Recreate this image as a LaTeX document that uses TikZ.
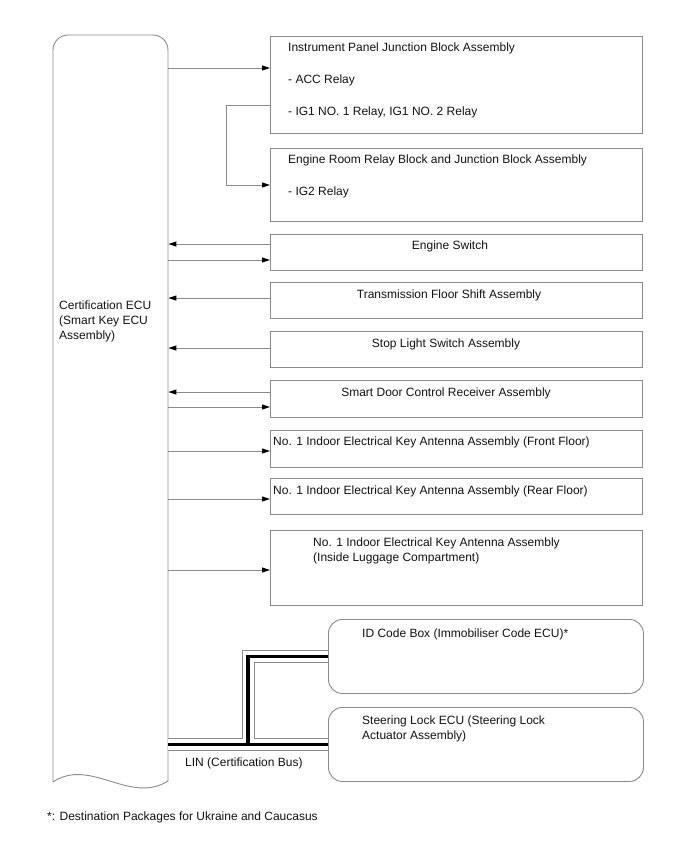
\documentclass[tikz,border=0pt]{standalone}
\usepackage{fontspec}
\setmainfont{Liberation Sans}
\usetikzlibrary{positioning,arrows.meta,calc}
\definecolor{wire}{HTML}{8A8A8A}
\definecolor{ink}{HTML}{111111}
\tikzset{
  unit/.style={draw=wire,line width=0.9pt,anchor=north west,inner sep=0pt,
               minimum width=372pt},
  rbox/.style={unit,rounded corners=14pt,minimum width=315pt,minimum height=74pt},
  txt/.style={anchor=base west,inner sep=0pt,text=ink,
              font=\fontsize{12}{15}\selectfont,align=left},
  ctxt/.style={txt,anchor=base},
  sig/.style={draw=wire,line width=0.9pt,
              -{Triangle[length=8pt,width=5pt,color=black]}},
  busout/.style={draw=wire,line width=13pt},
  busgap/.style={draw=white,line width=11pt},
  buscore/.style={draw=black,line width=3.5pt}
}

\begin{document}
\begin{tikzpicture}[x=1pt,y=-1pt]
    \useasboundingbox (0,0) rectangle (688,852);

    % smart key ECU (bottom edge is a torn/wavy line)
    \node[anchor=north west,minimum width=115pt,minimum height=748pt,inner sep=0pt] (ecu) at (53,35) {};
    \draw[wire,line width=0.9pt] (53,782) -- (53,50) arc[start angle=180,end angle=270,radius=15]
      -- (153,35) arc[start angle=270,end angle=360,radius=15] -- (168,781)
      .. controls (130,805) and (90,757) .. (53,782);
    \node[txt] (ecutxt) at (59,339.5) {Certification ECU\\(Smart Key ECU\\Assembly)};

    % right hand column
    \node[unit,minimum height=97pt] (ipjb) at (270,36) {};
    \node[unit,minimum height=73pt] (erjb) at (270,148) {};
    \node[unit,minimum height=36pt] (esw) at (270,234) {};
    \node[unit,minimum height=36pt] (tfs) at (270,282) {};
    \node[unit,minimum height=36pt] (sls) at (270,331) {};
    \node[unit,minimum height=37pt] (sdr) at (270,380) {};
    \node[unit,minimum height=37pt] (antf) at (270,430) {};
    \node[unit,minimum height=36pt] (antr) at (270,478) {};
    \node[unit,minimum height=75pt] (antl) at (270,530) {};
    \node[rbox] (idb) at (328,619) {};
    \node[rbox] (slk) at (328,707) {};

    \node[txt] (ipjbt) at (288,51) {Instrument Panel Junction Block Assembly};
    \node[txt] (acc) at (288,83) {- ACC Relay};
    \node[txt] (ig1) at (288,115) {- IG1 NO. 1 Relay, IG1 NO. 2 Relay};
    \node[txt] (erjbt) at (288,163) {Engine Room Relay Block and Junction Block Assembly};
    \node[txt] (ig2) at (288,195.5) {- IG2 Relay};
    \node[ctxt] (eswt) at (450,249.5) {Engine Switch};
    \node[ctxt] (tfst) at (449,298.5) {Transmission Floor Shift Assembly};
    \node[ctxt] (slst) at (446,347.5) {Stop Light Switch Assembly};
    \node[ctxt] (sdrt) at (446,396.5) {Smart Door Control Receiver Assembly};
    \node[txt] (antft) at (273,445.5) {No. 1 Indoor Electrical Key Antenna Assembly (Front Floor)};
    \node[txt] (antrt) at (273,494.5) {No. 1 Indoor Electrical Key Antenna Assembly (Rear Floor)};
    \node[txt] (antlt) at (313,561.5) {No. 1 Indoor Electrical Key Antenna Assembly\\(Inside Luggage Compartment)};
    \node[txt] (idbt) at (362,637.5) {ID Code Box (Immobiliser Code ECU)*};
    \node[txt] (slkt) at (362,739.5) {Steering Lock ECU (Steering Lock\\Actuator Assembly)};

    % signal lines
    \draw[sig] (ecu.east |- 0,68) -- (ipjb.west |- 0,68);
    \draw[sig] (ipjb.west |- 0,105) -- (226,105) -- (226,185) -- (erjb.west |- 0,185);
    \draw[sig] (esw.west |- 0,244) -- (ecu.east |- 0,244);
    \draw[sig] (ecu.east |- 0,260) -- (esw.west |- 0,260);
    \draw[sig] (tfs.west |- 0,298) -- (ecu.east |- 0,298);
    \draw[sig] (sls.west |- 0,348) -- (ecu.east |- 0,348);
    \draw[sig] (sdr.west |- 0,392) -- (ecu.east |- 0,392);
    \draw[sig] (ecu.east |- 0,407) -- (sdr.west |- 0,407);
    \draw[sig] (ecu.east |- 0,451) -- (antf.west |- 0,451);
    \draw[sig] (ecu.east |- 0,499) -- (antr.west |- 0,499);
    \draw[sig] (ecu.east |- 0,570) -- (antl.west |- 0,570);

    % LIN bus
    \coordinate (tap) at (248,744);
    \foreach \lay in {busout,busgap,buscore}{
      \draw[\lay] (ecu.east |- slk.west) -- (slk.west);
      \draw[\lay] (tap) -- (tap |- idb.west) -- (idb.west);
    }
    \node[txt] (lin) at (185,766.5) {LIN (Certification Bus)};

    \node[txt] (note) at (47,820.5) {*: Destination Packages for Ukraine and Caucasus};
  \end{tikzpicture}
\end{document}
